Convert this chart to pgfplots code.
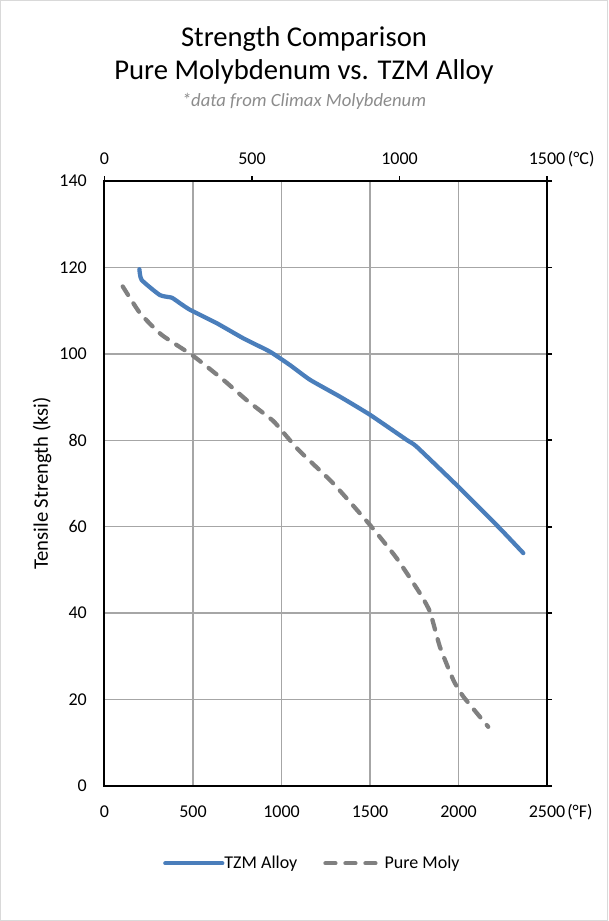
\documentclass[border=0pt]{standalone}
\usepackage{pgfplots}
\pgfplotsset{compat=1.18}
\usepackage{fontspec}
\setmainfont{Carlito}
\definecolor{tzmblue}{RGB}{74,126,187}
\definecolor{molygray}{RGB}{128,128,128}
\definecolor{gridgray}{RGB}{166,166,166}
\definecolor{subgray}{RGB}{140,140,140}
\definecolor{framegray}{RGB}{217,217,217}
\pgfplotstableread{
x y
197 119.6
210 117.1
313 113.6
380 113.0
427 111.7
483 110.2
634 107.1
784 103.6
935 100.5
1048 97.4
1161 94.0
1330 90.1
1500 85.9
1707 80.1
1764 78.5
2008 68.9
2234 59.6
2366 53.9
}\tzm
\pgfplotstableread{
x y
103 115.6
201 109.4
323 104.4
502 99.5
671 94.0
803 89.3
950 84.6
1000 82.3
1100 77.6
1293 70.0
1500 60.4
1651 52.7
1782 44.6
1839 40.3
1895 32.2
1971 24.5
2027 20.7
2168 13.7
}\moly
\begin{document}
\begin{tikzpicture}
\useasboundingbox (0,0) rectangle (456pt,-690.75pt);
\draw[framegray, line width=0.75pt] (0.375pt,-0.375pt) rectangle (455.625pt,-690.375pt);
\node[anchor=base, font=\fontsize{21.5}{25}\selectfont] at (228pt,-34.5pt) {Strength Comparison};
\node[anchor=base, font=\fontsize{21.5}{25}\selectfont] at (228pt,-59.5pt) {Pure Molybdenum vs. TZM Alloy};
\node[anchor=base, font=\fontsize{14}{17}\selectfont\itshape, text=subgray] at (228pt,-79.5pt) {*data from Climax Molybdenum};
\begin{axis}[
  at={(78.375pt,-589.5pt)}, anchor=south west,
  width=331.875pt, height=453.75pt, scale only axis,
  clip=false,
  xmin=0, xmax=2500, ymin=0, ymax=140,
  xtick={0,500,1000,1500,2000,2500},
  ytick={0,20,40,60,80,100,120,140},
  major tick length=0pt,
  grid=major,
  major grid style={gridgray, line width=1.1pt},
  axis line style={black, line width=1.5pt},
  /pgf/number format/assume math mode=true,
  /pgf/number format/1000 sep={},
  tick label style={font=\fontsize{13.5}{16}\selectfont, inner sep=0pt},
  xticklabel style={anchor=base, yshift=-23.25pt},
  yticklabel style={anchor=east, xshift=-13.1pt},
  ylabel={Tensile Strength (ksi)},
  ylabel style={at={(axis description cs:-0.1412,0.5)}, anchor=center, font=\fontsize{15.5}{18}\selectfont},
  legend columns=2,
  legend cell align=left,
  legend image code/.code={\draw[#1] (0pt,0pt) -- (42.75pt,0pt);},
  legend style={at={(axis description cs:0.132,-0.1278)}, anchor=west, draw=none, fill=none, inner sep=0pt,
    nodes={inner sep=0pt, font=\fontsize{13.5}{16}\selectfont},
    /tikz/every odd column/.append style={column sep=0pt},
    /tikz/every even column/.append style={column sep=19.5pt}},
]
\addplot[tzmblue, line width=3.2pt, line cap=round, smooth, tension=0.3] table[x=x,y=y] {\tzm};
\addlegendentry{TZM Alloy}
\addplot[molygray, line width=3.2pt, line cap=round, dash pattern=on 7.5pt off 7.5pt, smooth, tension=0.3] table[x=x,y=y] {\moly};
\addlegendentry{Pure Moly}
\node[anchor=base west, inner sep=0pt, font=\fontsize{13.5}{16}\selectfont] at (axis cs:2500,0) [xshift=15pt, yshift=-23.25pt] {(°F)};
\end{axis}
\begin{axis}[
  at={(78.375pt,-589.5pt)}, anchor=south west,
  width=331.875pt, height=453.75pt, scale only axis,
  clip=false,
  xmin=0, xmax=1500, ymin=0, ymax=140,
  axis x line*=top, axis y line*=right,
  xtick={0,500,1000,1500},
  ytick={0,20,40,60,80,100,120,140},
  yticklabels={},
  tick align=outside,
  major tick length=3.75pt,
  tick style={black, line width=1.2pt},
  axis line style={black, line width=1.5pt},
  /pgf/number format/assume math mode=true,
  /pgf/number format/1000 sep={},
  tick label style={font=\fontsize{13.5}{16}\selectfont, inner sep=0pt},
  xticklabel style={anchor=base, yshift=9pt},
]
\addplot[draw=none] coordinates {(0,0)};
\node[anchor=base west, inner sep=0pt, font=\fontsize{13.5}{16}\selectfont] at (axis cs:1500,140) [xshift=15.5pt, yshift=12.75pt] {(°C)};
\end{axis}
\end{tikzpicture}
\end{document}
